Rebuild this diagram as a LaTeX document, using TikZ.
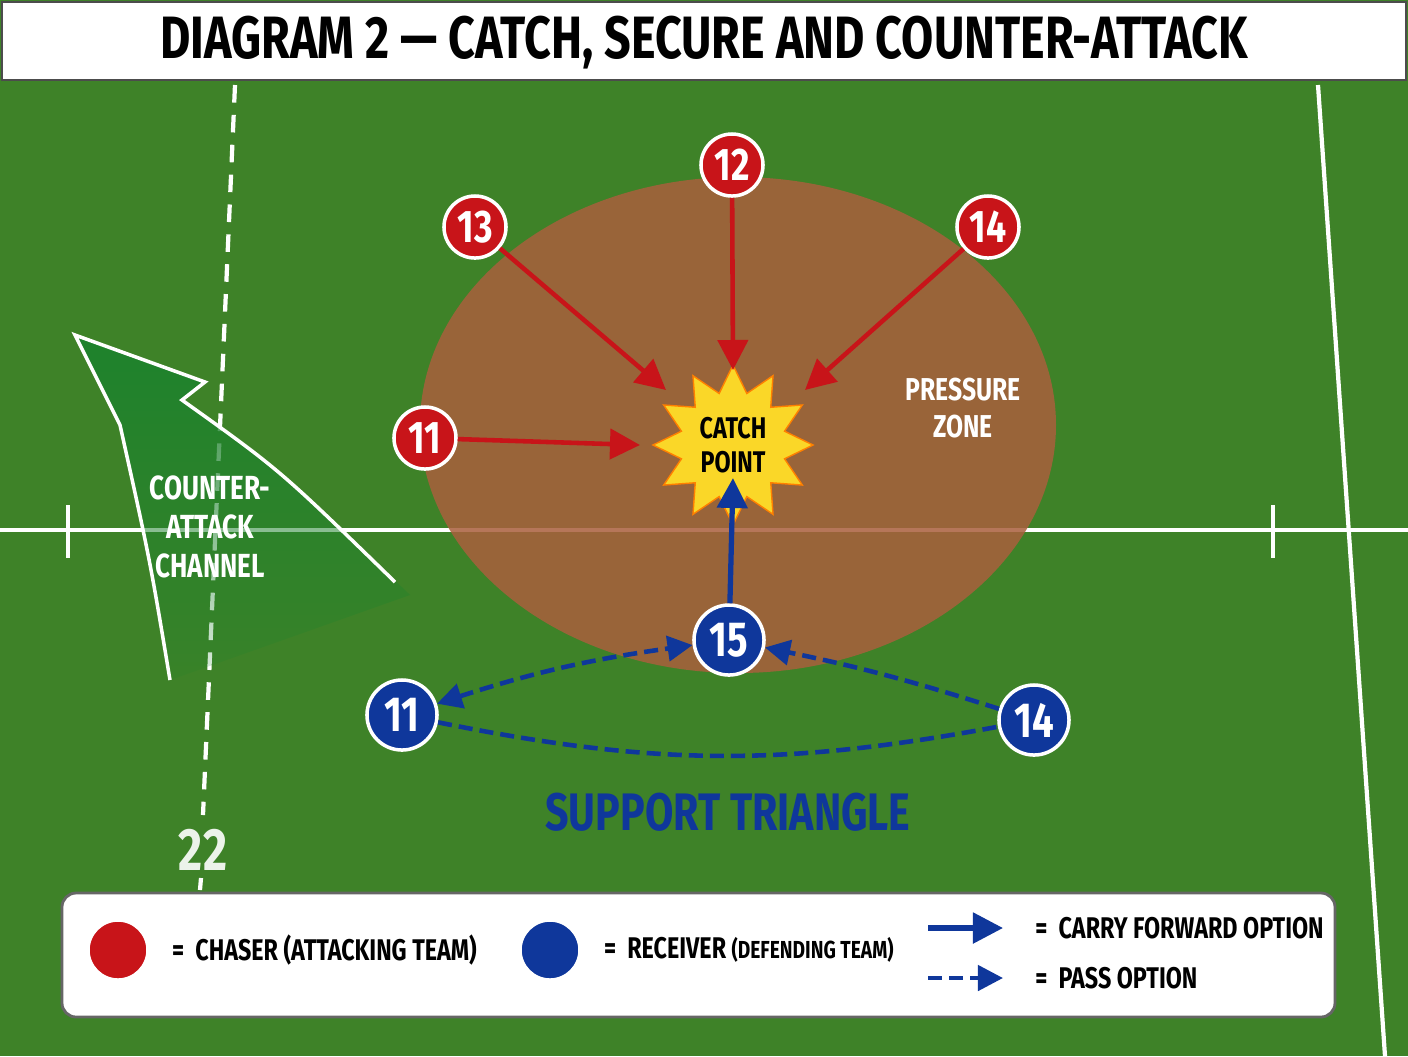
\documentclass[tikz,border=0pt]{standalone}
\usepackage{fontspec}
\setmainfont{Fira Sans}[FakeStretch=0.78]
\usetikzlibrary{positioning,arrows.meta,shapes.geometric,fadings}
\definecolor{pitch}{RGB}{62,130,40}
\definecolor{chaser}{RGB}{200,20,25}
\definecolor{recv}{RGB}{15,55,155}
\definecolor{zone}{RGB}{170,95,60}
\definecolor{starY}{RGB}{250,215,40}
\definecolor{chan}{RGB}{30,130,45}
\tikzfading[name=chanfade, top color=transparent!0, bottom color=transparent!85]
\begin{document}
\begin{tikzpicture}[x=0.01cm,y=-0.01cm,
     every node/.style = {font=\bfseries},
      redp/.style = {circle, draw=white, line width=1pt, fill=chaser, text=white, inner sep=0pt, minimum size=6.2mm, font=\bfseries\fontsize{13}{13}\selectfont},
     bluep/.style = {circle, draw=white, line width=1pt, fill=recv, text=white, inner sep=0pt, minimum size=7mm, font=\bfseries\fontsize{14}{14}\selectfont},
       push/.style = {draw=chaser, line width=1.3pt, -{Triangle[length=3mm,width=3mm]}},
      carry/.style = {draw=recv, line width=1.5pt, -{Triangle[length=3mm,width=3mm]}},
       pass/.style = {draw=recv, line width=1.3pt, dash pattern=on 4pt off 2pt, -{Triangle[length=2.5mm,width=2.5mm]}},
      fieldline/.style = {draw=white, line width=1.2pt},
      legtext/.style = {font=\bfseries\fontsize{8.5}{8.5}\selectfont}
                        ]
\useasboundingbox (0,0) rectangle (1408,1056);
% pitch
\fill[pitch] (0,0) rectangle (1408,1056);
\draw[fieldline, dash pattern=on 5pt off 3.5pt] (235,85) -- (203,815);
\draw[fieldline] (201,878) -- (200,890);
\draw[fieldline] (0,530) -- (1408,530);
\draw[fieldline] (1318,85) -- (1385,1056);
\draw[fieldline] (68,505) -- (68,558);
\draw[fieldline] (1273,505) -- (1273,558);
\node (twentytwo) [text=white!90!pitch, font=\bfseries\fontsize{17}{17}\selectfont] at (203,850) {22};
% pressure zone
\fill[zone, opacity=0.85] (738,425) ellipse [x radius=318, y radius=248];
\node (pz) [text=white, align=center, font=\bfseries\fontsize{9}{10.5}\selectfont] at (963,408) {PRESSURE\\ZONE};
% counter-attack channel
\fill[chan, path fading=chanfade]
  (170,680) .. controls (150,560) .. (120,425) -- (75,335) -- (205,382) -- (182,400)
  .. controls (280,470) .. (410,595) -- cycle;
\draw[white, line width=1pt]
  (170,680) .. controls (150,560) .. (120,425) -- (75,335) -- (205,382) -- (182,400)
  .. controls (280,470) .. (395,582);
\node (chantext) [text=white, align=center, font=\bfseries\fontsize{9.5}{11}\selectfont] at (210,527) {COUNTER-\\ATTACK\\CHANNEL};
% catch point
\node (catch) [star, star points=12, star point ratio=1.5, minimum size=1.6cm, inner sep=0pt, fill=starY, draw=orange, align=center, text=black, font=\bfseries\fontsize{8.5}{9.5}\selectfont] at (733,445) {CATCH\\POINT};
% chasers
\node (r12) [redp] at (732,165) {12};
\node (r13) [redp] at (475,227) {13};
\node (r14) [redp] at (988,227) {14};
\node (r11) [redp] at (425,438) {11};
\draw[push] (r13) -- (666,390);
\draw[push] (r12) -- (733,370);
\draw[push] (r14) -- (805,390);
\draw[push] (r11) -- (640,445);
% receivers
\node (b15) [bluep] at (729,640) {15};
\node (b11) [bluep] at (402,715) {11};
\node (b14) [bluep] at (1034,720) {14};
\draw[carry] (b15) -- (733,478);
\draw[pass, {Triangle[length=2.5mm,width=2.5mm]}-{Triangle[length=2.5mm,width=2.5mm]}] (b11) to[bend left=5] (b15);
\draw[pass] (b14) to[bend right=3] (b15);
\draw[pass, -] (b11) to[bend right=11] (b14);
\node (support) [text=recv, font=\bfseries\fontsize{15}{15}\selectfont] at (728,812) {SUPPORT TRIANGLE};
% title
\draw[fill=white, draw=black!70, line width=0.8pt] (2,2) rectangle (1406,80);
\node (title) [font=\bfseries\fontsize{17}{17}\selectfont] at (704,43) {DIAGRAM 2 — CATCH, SECURE AND COUNTER-ATTACK};
% legend
\draw[fill=white, draw=black!60, rounded corners=4pt, line width=0.8pt] (62,893) rectangle (1335,1017);
\node (lr) [redp, minimum size=6mm] at (118,950) {};
\node (lrt) [right=1mm of lr, legtext] {= \ CHASER (ATTACKING TEAM)};
\node (lb) [bluep, minimum size=6mm] at (550,950) {};
\node (lbt) [right=1mm of lb, legtext] {= \ RECEIVER {\fontsize{7}{7}\selectfont(DEFENDING TEAM)}};
\coordinate (c1) at (928,928);
\coordinate (c2) at (1003,928);
\coordinate (p1) at (928,978);
\coordinate (p2) at (1003,978);
\draw[carry] (c1) -- (c2);
\draw[pass] (p1) -- (p2);
\node (ct) [right=2mm of c2, legtext] {= \ CARRY FORWARD OPTION};
\node (pt) [right=2mm of p2, legtext] {= \ PASS OPTION};
\end{tikzpicture}
\end{document}
